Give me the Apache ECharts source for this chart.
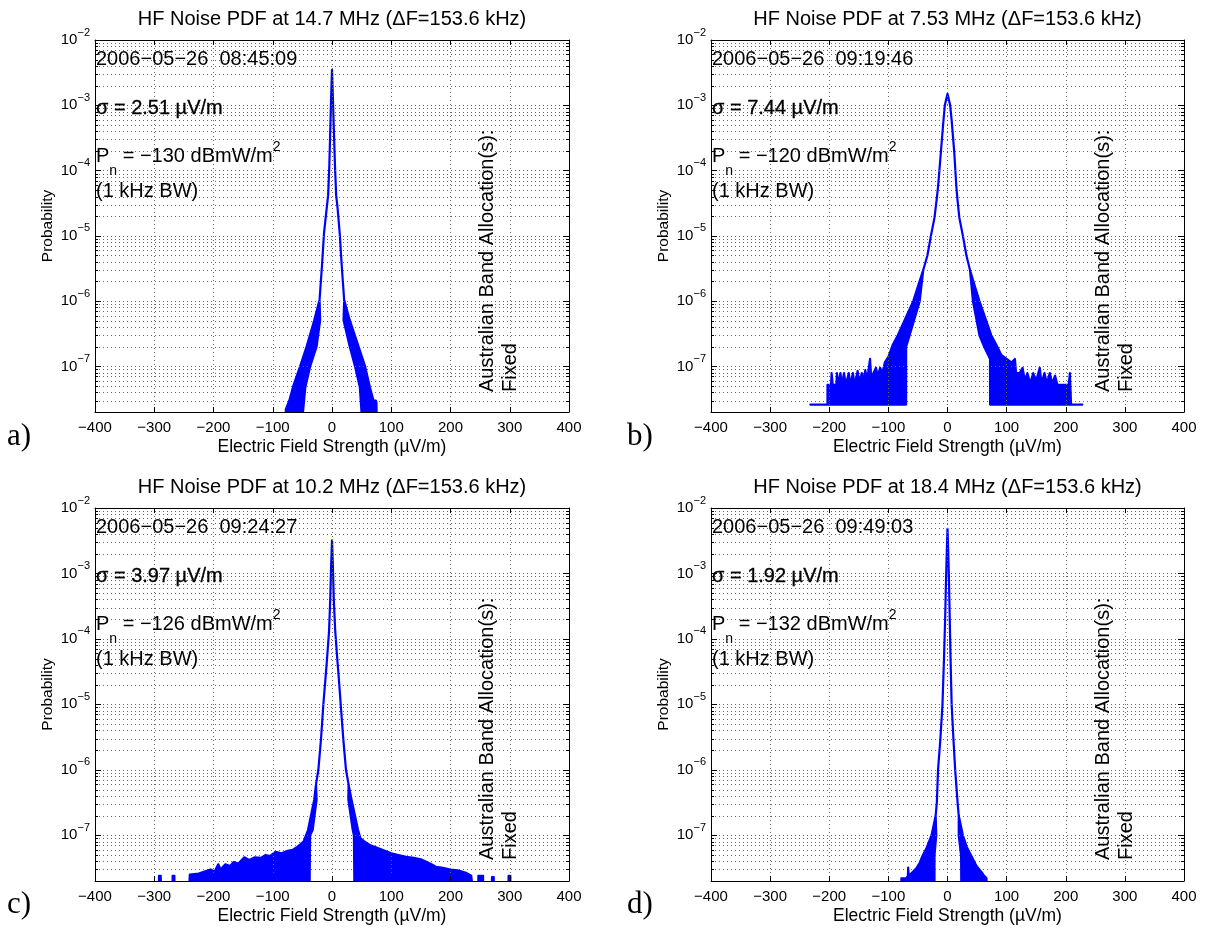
<!DOCTYPE html>
<html><head><meta charset="utf-8">
<script src="https://cdn.jsdelivr.net/npm/echarts@6/dist/echarts.min.js"></script>
<style>html,body{margin:0;padding:0;background:#fff}#c{width:1207px;height:932px}</style>
</head><body><div id="c"></div>
<script>
// ---------------- text content ----------------
const titles = ['HF Noise PDF at 14.7 MHz (\u0394F=153.6 kHz)', 'HF Noise PDF at 7.53 MHz (\u0394F=153.6 kHz)',
                'HF Noise PDF at 10.2 MHz (\u0394F=153.6 kHz)', 'HF Noise PDF at 18.4 MHz (\u0394F=153.6 kHz)'];
const stamps = ['2006\u221205\u221226  08:45:09', '2006\u221205\u221226  09:19:46', '2006\u221205\u221226  09:24:27', '2006\u221205\u221226  09:49:03'];
const sigmas = ['2.51', '7.44', '3.97', '1.92'];
const noisePowers = ['\u2212130', '\u2212120', '\u2212126', '\u2212132'];
const panelLetters = ['a)', 'b)', 'c)', 'd)'];
const allocations = ['Fixed', 'Fixed', 'Fixed', 'Fixed'];
const xTickValues = [-400, -300, -200, -100, 0, 100, 200, 300, 400];
const yRange = [2e-8, 1e-2];

// ---------------- PDF envelopes [field strength uV/m, probability] ----------------
// Panel a: 14.7 MHz
const aCore = [[-21,1.05e-6],[-17,3.4e-6],[-13.5,1.1e-5],[-9,2.6e-5],[-6.5,4.2e-5],[-4.5,1.2e-4],[-3,4e-4],[-1.5,1.3e-3],[0,3.5e-3],[1.5,1.3e-3],[3.2,4e-4],[5,1.2e-4],[7,4.2e-5],[9.5,2.6e-5],[13,1.1e-5],[16.5,3.4e-6],[20.5,1.05e-6]];
const aLeftOuter = [[-78,1e-8],[-78,2.2e-8],[-72,3e-8],[-66,4.8e-8],[-54,9.9e-8],[-43,2e-7],[-30,5.1e-7]];
const aLeftInner = [[-52,1e-8],[-45,4.8e-8],[-37,9.9e-8],[-26,2e-7],[-20,5.1e-7]];
const aRightInner = [[19.5,5.1e-7],[30,2e-7],[39,9.9e-8],[47,4.8e-8],[52,1e-8]];
const aRightOuter = [[30,5.1e-7],[45,2e-7],[56,9.9e-8],[64,4.8e-8],[70,3e-8],[74,3e-8],[75,2.8e-8],[76,1e-8]];

// Panel b: 7.53 MHz
const bCore = [[-41,3e-6],[-34,5e-6],[-28,1e-5],[-22,1.9e-5],[-18.5,3.5e-5],[-16,5.6e-5],[-11.3,1.86e-4],[-6.8,5.9e-4],[-4.5,1e-3],[0,1.5e-3],[4.5,1e-3],[7,5.9e-4],[11.5,1.86e-4],[15,5.6e-5],[17,3.5e-5],[20,1.9e-5],[26,1e-5],[32,5e-6],[38,3e-6]];
const bLeftOuter = [[-232,2.6e-8],[-203,2.6e-8],[-203,5.2e-8],[-197,5.2e-8],[-196,7.9e-8],[-194,5.2e-8],[-188,5.2e-8],[-187,7.9e-8],[-185,5.2e-8],[-181,7.9e-8],[-179,5.2e-8],[-175,7.9e-8],[-172,5.2e-8],[-167,7.9e-8],[-164,5.2e-8],[-160,7.9e-8],[-157,5.2e-8],[-152,8.5e-8],[-149,5.5e-8],[-145,7.9e-8],[-142,6e-8],[-139,8.8e-8],[-136,6e-8],[-131,1.3e-7],[-129,6.5e-8],[-125,8e-8],[-121,9.5e-8],[-118,7e-8],[-114,9.5e-8],[-110,8e-8],[-106,1.15e-7],[-100,1.4e-7],[-93,2.1e-7],[-84,3e-7],[-58,1e-6]];
const bLeftInner = [[-70,2.6e-8],[-70,2e-7],[-64,3e-7],[-47,1e-6]];
const bRightInner = [[43,1e-6],[54,3e-7],[62,2e-7],[72,1.3e-7],[72,2.6e-8]];
const bRightOuter = [[54,1e-6],[74,3e-7],[83,2.1e-7],[91,1.5e-7],[100,1.3e-7],[108,1.15e-7],[114,1.3e-7],[116,7.9e-8],[122,7.9e-8],[127,9.5e-8],[131,6e-8],[135,7.9e-8],[140,5.5e-8],[145,7.9e-8],[150,6e-8],[156,9.5e-8],[159,5.5e-8],[164,7.9e-8],[168,5.5e-8],[173,7.9e-8],[177,5.5e-8],[182,7.2e-8],[186,5.2e-8],[205,5.2e-8],[207,7.9e-8],[209,2.6e-8],[228,2.6e-8]];

// Panel c: 10.2 MHz
const cCore = [[-27,6e-7],[-23,1e-6],[-18.5,3e-6],[-14.6,1e-5],[-11,2.5e-5],[-8.5,4.8e-5],[-5,1.3e-4],[-3,4e-4],[-1.5,1.3e-3],[0,3.2e-3],[1.5,1.3e-3],[3,4e-4],[5.5,1.3e-4],[9,4.8e-5],[11.5,2.5e-5],[14.7,1e-5],[19,3e-6],[23.6,1e-6],[28,6e-7]];
const cLeftOuter = [[-292,1e-8],[-292,2.4e-8],[-289,2.4e-8],[-289,1e-8],[-269,1e-8],[-269,2.4e-8],[-266,2.4e-8],[-266,1e-8],[-242,1e-8],[-240,2.5e-8],[-225,2.6e-8],[-215,2.8e-8],[-205,3e-8],[-198,2.8e-8],[-192,3.6e-8],[-188,3e-8],[-180,3.6e-8],[-172,3.4e-8],[-166,3.9e-8],[-158,3.7e-8],[-148,4.6e-8],[-140,4.2e-8],[-130,4.6e-8],[-120,4.5e-8],[-112,5e-8],[-105,4.8e-8],[-95,5.6e-8],[-85,5.3e-8],[-75,5.8e-8],[-66,6e-8],[-60,6.5e-8],[-53,7.3e-8],[-48,8e-8],[-43,1.05e-7],[-40.5,1.2e-7],[-30,3.5e-7]];
const cLeftInner = [[-38,1e-8],[-37,1e-7],[-32.6,1.2e-7],[-26,3.5e-7]];
const cRightInner = [[27.6,3.5e-7],[35,1.2e-7],[37,1e-7],[38,1e-8]];
const cRightOuter = [[33,3.5e-7],[44,1.2e-7],[48,9e-8],[55,8e-8],[65,7e-8],[75,6.5e-8],[85,6e-8],[100,5.3e-8],[112,5e-8],[125,4.7e-8],[138,4.5e-8],[150,4.3e-8],[160,3.9e-8],[168,3.6e-8],[175,3.3e-8],[185,3.2e-8],[200,3e-8],[212,2.9e-8],[225,2.7e-8],[235,2.4e-8],[240,1e-8],[247,1e-8],[247,2.4e-8],[255,2.4e-8],[255,1e-8],[270,1e-8],[270,2.3e-8],[273,2.3e-8],[273,1e-8],[298,1e-8],[298,2.4e-8],[301,2.4e-8],[301,1e-8]];

// Panel d: 18.4 MHz
const dCore = [[-20,2e-7],[-18,3.2e-7],[-16,1e-6],[-12,3e-6],[-8.5,1e-5],[-6,4.8e-5],[-4,2e-4],[-2.5,8e-4],[-1,2.5e-3],[0,4.8e-3],[1,2.5e-3],[2.5,8e-4],[3.8,2e-4],[5.2,4.8e-5],[7,1e-5],[10,3e-6],[13,1e-6],[17,3.2e-7],[19,2e-7]];
const dLeftOuter = [[-78,1e-8],[-78,2.2e-8],[-70,2.2e-8],[-67,2.4e-8],[-66.5,3.2e-8],[-65.5,2.4e-8],[-58,2.8e-8],[-52,3.2e-8],[-47,3.8e-8],[-42,4.9e-8],[-35,6.5e-8],[-27,1e-7]];
const dLeftInner = [[-22,1e-8],[-22,4.9e-8],[-19,1e-7]];
const dRightInner = [[19,1e-7],[23,4.9e-8],[23.5,1e-8]];
const dRightOuter = [[26,1e-7],[33,6.5e-8],[40,4.9e-8],[49,3.4e-8],[58,2.7e-8],[62,2.4e-8],[66,2.2e-8],[66,1e-8]];

// ---------------- layout ----------------
const SANS = '"Liberation Sans", Arial, Helvetica, sans-serif';
const grids = [
  {left: 95, top: 40, width: 474, height: 372},
  {left: 711, top: 40, width: 473, height: 372},
  {left: 95, top: 508, width: 474, height: 373},
  {left: 711, top: 508, width: 473, height: 373}
];
const panels = [
  {lo: aLeftOuter, core: aCore, ro: aRightOuter, li: aLeftInner, ri: aRightInner},
  {lo: bLeftOuter, core: bCore, ro: bRightOuter, li: bLeftInner, ri: bRightInner},
  {lo: cLeftOuter, core: cCore, ro: cRightOuter, li: cLeftInner, ri: cRightInner},
  {lo: dLeftOuter, core: dCore, ro: dRightOuter, li: dLeftInner, ri: dRightInner}
];
const minorLevels = [];
for (let e = -8; e <= -3; e++) for (let m = 2; m <= 9; m++) {
  const v = m * Math.pow(10, e);
  if (v > yRange[0] * 1.01 && v < yRange[1] * 0.99) minorLevels.push(v);
}
const GRID_COLOR = '#666';
const dotted = {type: [1, 3], color: GRID_COLOR, width: 1};

const xAxes = [], yAxes = [], series = [], graphic = [];
grids.forEach((g, i) => {
  const axisLine = {show: true, onZero: false, lineStyle: {color: '#000', width: 1}};
  xAxes.push({
    type: 'value', gridIndex: i, min: -400, max: 400, interval: 100, position: 'bottom', z: 5,
    axisLine, axisTick: {show: true, inside: true, length: 5, lineStyle: {color: '#000'}},
    axisLabel: {margin: 8, fontSize: 15, fontFamily: SANS, color: '#000',
      formatter: v => v < 0 ? '\u2212' + Math.abs(v) : String(v)},
    splitLine: {show: true, lineStyle: dotted},
    name: 'Electric Field Strength (\u00b5V/m)', nameLocation: 'middle', nameGap: 26,
    nameTextStyle: {fontSize: 17.5, fontFamily: SANS, color: '#000'}
  });
  xAxes.push({
    type: 'value', gridIndex: i, min: -400, max: 400, interval: 100, position: 'top', z: 5,
    axisLine, axisTick: {show: true, inside: true, length: 5, lineStyle: {color: '#000'}},
    axisLabel: {show: false}, splitLine: {show: false}
  });
  yAxes.push({
    type: 'log', logBase: 10, gridIndex: i, min: yRange[0], max: yRange[1], position: 'left', z: 5,
    axisLine, axisTick: {show: true, inside: true, length: 6, lineStyle: {color: '#000'}},
    axisLabel: {margin: 5, color: '#000', fontFamily: SANS,
      formatter: v => {
        const e = Math.log10(v), r = Math.round(e);
        if (Math.abs(e - r) > 1e-6) return '';
        return '{b|10}{s|' + (r < 0 ? '\u2212' : '') + Math.abs(r) + '}';
      },
      rich: {b: {fontSize: 15, fontFamily: SANS, color: '#000', lineHeight: 26},
             s: {fontSize: 11, fontFamily: SANS, color: '#000', verticalAlign: 'top'}}},
    splitLine: {show: true, lineStyle: dotted},
    name: 'Probability', nameLocation: 'middle', nameGap: 39,
    nameTextStyle: {fontSize: 15.5, fontFamily: SANS, color: '#000'}
  });
  yAxes.push({
    type: 'log', logBase: 10, gridIndex: i, min: yRange[0], max: yRange[1], position: 'right', z: 5,
    axisLine, axisTick: {show: true, inside: true, length: 6, lineStyle: {color: '#000'}},
    axisLabel: {show: false}, splitLine: {show: false}
  });

  // minor log grid + minor ticks (2..9 x 10^n)
  series.push({
    type: 'custom', xAxisIndex: 2 * i, yAxisIndex: 2 * i, coordinateSystem: 'cartesian2d',
    z: 1, silent: true, clip: false, animation: false,
    data: minorLevels.map(v => [0, v]),
    renderItem(params, api) {
      const v = api.value(1);
      const l = api.coord([-400, v]), r = api.coord([400, v]);
      const y = Math.round(l[1]) + 0.5, x0 = Math.round(l[0]), x1 = Math.round(r[0]);
      return {type: 'group', children: [
        {type: 'line', shape: {x1: x0, y1: y, x2: x1, y2: y}, style: {stroke: GRID_COLOR, lineWidth: 1, lineDash: [1, 3]}},
        {type: 'line', shape: {x1: x0, y1: y, x2: x0 + 3, y2: y}, style: {stroke: '#000', lineWidth: 1}},
        {type: 'line', shape: {x1: x1 - 3, y1: y, x2: x1, y2: y}, style: {stroke: '#000', lineWidth: 1}}
      ]};
    }
  });

  // the PDF curve (envelope polygon)
  const p = panels[i];
  const hi = p.lo.concat(p.core, p.ro);
  const lo = p.li.concat(p.core, p.ri);
  const outline = hi.concat(lo.slice().reverse());
  series.push({
    type: 'custom', xAxisIndex: 2 * i, yAxisIndex: 2 * i, coordinateSystem: 'cartesian2d',
    z: 3, silent: true, clip: true, animation: false,
    data: outline,
    renderItem(params, api) {
      if (params.dataIndex !== 0) return null;
      const pts = outline.map(d => api.coord(d));
      return {type: 'polygon', shape: {points: pts},
        style: {fill: '#0000ff', stroke: '#0000ff', lineWidth: 2.2, lineJoin: 'round'}};
    }
  });

  // texts
  const gx = g.left, gy = g.top;
  graphic.push({type: 'text', x: gx + g.width / 2, y: gy - 21, z: 10,
    style: {text: titles[i], font: '20px ' + SANS, fill: '#000', align: 'center', verticalAlign: 'middle', textAlign: 'center', textVerticalAlign: 'middle'}});
  graphic.push({type: 'text', x: gx + 1, y: gy + 19, z: 10,
    style: {text: stamps[i], font: '20px ' + SANS, fill: '#000', align: 'left', verticalAlign: 'middle', textAlign: 'left', textVerticalAlign: 'middle'}});
  graphic.push({type: 'text', x: gx + 1, y: gy + 68, z: 10,
    style: {text: '\u03c3 = ' + sigmas[i] + ' \u00b5V/m', font: '20px ' + SANS, fill: '#000', stroke: '#000', lineWidth: 0.3,
      align: 'left', verticalAlign: 'middle', textAlign: 'left', textVerticalAlign: 'middle'}});
  graphic.push({type: 'text', x: gx + 1, y: gy + 116, z: 10,
    style: {text: '{m|P}{sub|n}{m| = ' + noisePowers[i] + ' dBmW/m}{sup|2}', align: 'left', verticalAlign: 'middle', textAlign: 'left', textVerticalAlign: 'middle',
      rich: {m: {font: '20px ' + SANS, fill: '#000', lineHeight: 44},
             sub: {font: '14px ' + SANS, fill: '#000', lineHeight: 16, verticalAlign: 'bottom'},
             sup: {font: '14px ' + SANS, fill: '#000', verticalAlign: 'top', padding: [6, 0, 0, 0]}}}});
  graphic.push({type: 'text', x: gx + 1, y: gy + 151, z: 10,
    style: {text: '(1 kHz BW)', font: '20px ' + SANS, fill: '#000', align: 'left', verticalAlign: 'middle', textAlign: 'left', textVerticalAlign: 'middle'}});
  graphic.push({type: 'text', x: gx + 380.5, y: gy + 352, rotation: Math.PI / 2, z: 10,
    style: {text: 'Australian Band Allocation(s):\n' + allocations[i], font: '20px ' + SANS, fill: '#000', lineHeight: 23,
      align: 'left', verticalAlign: 'top', textAlign: 'left', textVerticalAlign: 'top'}});
  graphic.push({type: 'text', x: (i % 2 === 0 ? 7 : 627), y: gy + 397, z: 10,
    style: {text: panelLetters[i], font: '31px "Liberation Serif", "DejaVu Serif", serif', fill: '#000', align: 'left', verticalAlign: 'middle', textAlign: 'left', textVerticalAlign: 'middle'}});
});

const chart = echarts.init(document.getElementById('c'), null, {renderer: 'canvas'});
chart.setOption({
  backgroundColor: '#fff',
  animation: false,
  grid: grids.map(g => Object.assign({containLabel: false}, g)),
  xAxis: xAxes,
  yAxis: yAxes,
  series: series,
  graphic: graphic
});
</script></body></html>
